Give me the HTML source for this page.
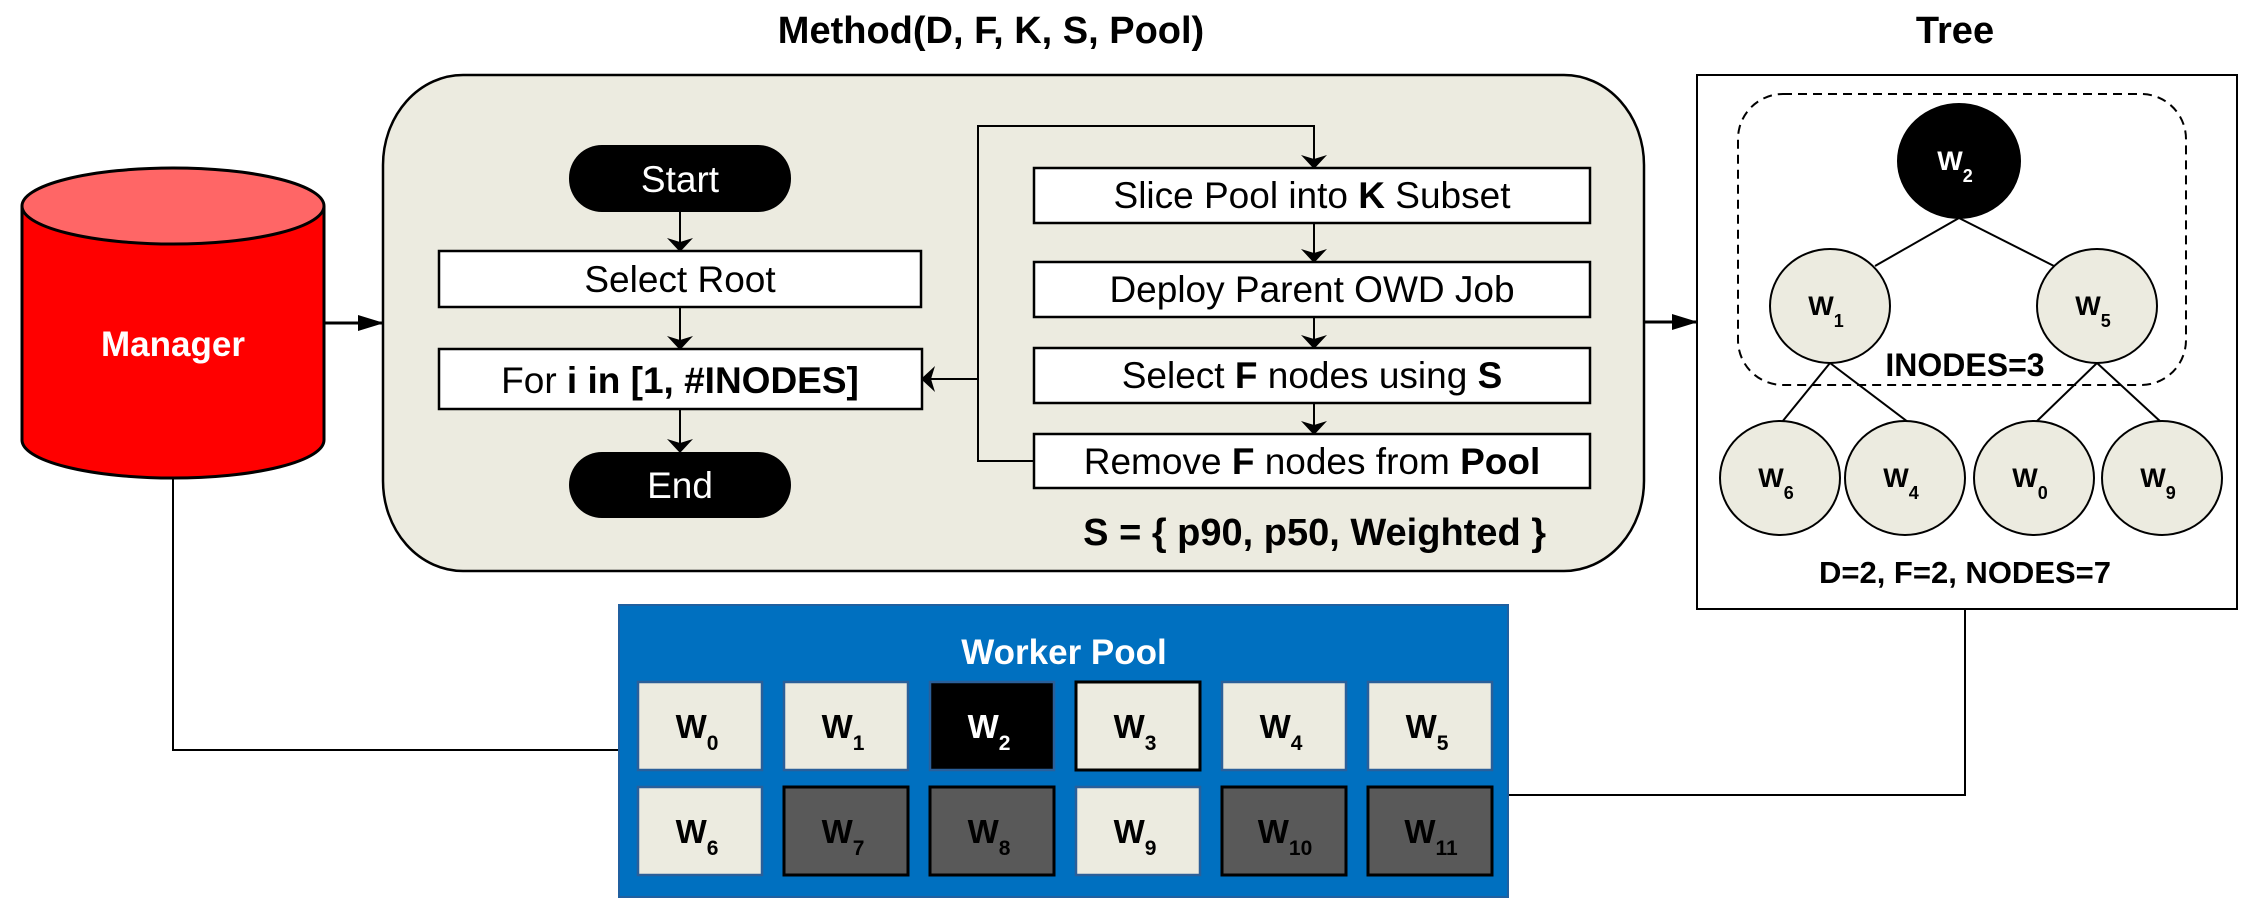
<!DOCTYPE html>
<html><head><meta charset="utf-8"><style>
html,body{margin:0;padding:0;background:#fff}
svg{display:block}
text{font-family:"Liberation Sans",sans-serif}
</style></head><body>
<svg width="2259" height="911" viewBox="0 0 2259 911" xmlns="http://www.w3.org/2000/svg">
<defs>
<marker id="c" markerWidth="14" markerHeight="26" refX="13" refY="13" orient="auto" markerUnits="userSpaceOnUse"><path d="M0,0 L14,13 L0,26 L4,13 z" fill="#000"/></marker>
<marker id="d" markerWidth="26" markerHeight="16" refX="25" refY="8" orient="auto" markerUnits="userSpaceOnUse"><path d="M0,0 L26,8 L0,16 z" fill="#000"/></marker>
</defs>

<text x="991" y="43" font-size="38" font-weight="bold" text-anchor="middle">Method(D, F, K, S, Pool)</text>
<text x="1955" y="43" font-size="38" font-weight="bold" text-anchor="middle">Tree</text>

<!-- Manager cylinder -->
<path d="M22,206 L22,440 A151,38 0 0 0 324,440 L324,206" fill="#ff0000" stroke="#000" stroke-width="3"/>
<ellipse cx="173" cy="206" rx="151" ry="38" fill="#ff6666" stroke="#000" stroke-width="3"/>
<text x="173" y="356" font-size="35" font-weight="bold" fill="#fff" text-anchor="middle">Manager</text>

<!-- connector lines -->
<polyline points="173,478 173,750 619,750" fill="none" stroke="#000" stroke-width="2"/>
<polyline points="1508,795 1965,795 1965,609" fill="none" stroke="#000" stroke-width="2"/>
<line x1="324" y1="323" x2="383" y2="323" stroke="#000" stroke-width="3" marker-end="url(#d)"/>
<line x1="1644" y1="322" x2="1697" y2="322" stroke="#000" stroke-width="3" marker-end="url(#d)"/>

<!-- Method box -->
<rect x="383" y="75" width="1261" height="496" rx="80" ry="90" fill="#ecebe0" stroke="#000" stroke-width="2.5"/>

<rect x="569" y="145" width="222" height="67" rx="33" fill="#000"/>
<text x="680" y="192" font-size="37" fill="#fff" text-anchor="middle">Start</text>
<rect x="439" y="251" width="482" height="56" fill="#fff" stroke="#000" stroke-width="2.5"/>
<text x="680" y="292" font-size="37" text-anchor="middle">Select Root</text>
<rect x="439" y="349" width="483" height="60" fill="#fff" stroke="#000" stroke-width="2.5"/>
<text x="680" y="393" font-size="37" text-anchor="middle">For <tspan font-weight="bold">i in [1, #INODES]</tspan></text>
<rect x="569" y="452" width="222" height="66" rx="33" fill="#000"/>
<text x="680" y="498" font-size="37" fill="#fff" text-anchor="middle">End</text>
<line x1="680" y1="212" x2="680" y2="251" stroke="#000" stroke-width="2" marker-end="url(#c)"/>
<line x1="680" y1="307" x2="680" y2="349" stroke="#000" stroke-width="2" marker-end="url(#c)"/>
<line x1="680" y1="409" x2="680" y2="452" stroke="#000" stroke-width="2" marker-end="url(#c)"/>

<rect x="1034" y="168" width="556" height="55" fill="#fff" stroke="#000" stroke-width="2.5"/>
<text x="1312" y="208" font-size="37" text-anchor="middle">Slice Pool into <tspan font-weight="bold">K</tspan> Subset</text>
<rect x="1034" y="262" width="556" height="55" fill="#fff" stroke="#000" stroke-width="2.5"/>
<text x="1312" y="302" font-size="37" text-anchor="middle">Deploy Parent OWD Job</text>
<rect x="1034" y="348" width="556" height="55" fill="#fff" stroke="#000" stroke-width="2.5"/>
<text x="1312" y="388" font-size="37" text-anchor="middle">Select <tspan font-weight="bold">F</tspan> nodes using <tspan font-weight="bold">S</tspan></text>
<rect x="1034" y="434" width="556" height="54" fill="#fff" stroke="#000" stroke-width="2.5"/>
<text x="1312" y="474" font-size="37" text-anchor="middle">Remove <tspan font-weight="bold">F</tspan> nodes from <tspan font-weight="bold">Pool</tspan></text>
<line x1="1314" y1="223" x2="1314" y2="262" stroke="#000" stroke-width="2" marker-end="url(#c)"/>
<line x1="1314" y1="317" x2="1314" y2="348" stroke="#000" stroke-width="2" marker-end="url(#c)"/>
<line x1="1314" y1="403" x2="1314" y2="434" stroke="#000" stroke-width="2" marker-end="url(#c)"/>
<polyline points="1034,461 978,461 978,126 1314,126 1314,168" fill="none" stroke="#000" stroke-width="2" marker-end="url(#c)"/>
<line x1="978" y1="379" x2="922" y2="379" stroke="#000" stroke-width="2" marker-end="url(#c)"/>
<text x="1546" y="545" font-size="38" font-weight="bold" text-anchor="end">S = { p90, p50, Weighted }</text>

<!-- Tree -->
<rect x="1697" y="75" width="540" height="534" fill="#fff" stroke="#000" stroke-width="2"/>
<rect x="1738" y="94" width="448" height="291" rx="45" fill="none" stroke="#000" stroke-width="2" stroke-dasharray="9,6"/>
<g stroke="#000" stroke-width="2">
<line x1="1959" y1="218" x2="1875" y2="266"/><line x1="1959" y1="218" x2="2054" y2="266"/>
<line x1="1830" y1="363" x2="1782" y2="422"/><line x1="1830" y1="363" x2="1908" y2="422"/>
<line x1="2097" y1="363" x2="2036" y2="422"/><line x1="2097" y1="363" x2="2161" y2="422"/>
</g>
<g stroke="#000" stroke-width="2" fill="#ecebe0">
<ellipse cx="1959" cy="161" rx="61" ry="57" fill="#000"/>
<ellipse cx="1830" cy="306" rx="60" ry="57"/><ellipse cx="2097" cy="306" rx="60" ry="57"/>
<ellipse cx="1780" cy="478" rx="60" ry="57"/><ellipse cx="1905" cy="478" rx="60" ry="57"/>
<ellipse cx="2034" cy="478" rx="60" ry="57"/><ellipse cx="2162" cy="478" rx="60" ry="57"/>
</g>
<g font-size="27" font-weight="bold" text-anchor="middle">
<text x="1955" y="170" fill="#fff">W<tspan font-size="18" dy="12">2</tspan></text>
<text x="1826" y="315">W<tspan font-size="18" dy="12">1</tspan></text>
<text x="2093" y="315">W<tspan font-size="18" dy="12">5</tspan></text>
<text x="1776" y="487">W<tspan font-size="18" dy="12">6</tspan></text>
<text x="1901" y="487">W<tspan font-size="18" dy="12">4</tspan></text>
<text x="2030" y="487">W<tspan font-size="18" dy="12">0</tspan></text>
<text x="2158" y="487">W<tspan font-size="18" dy="12">9</tspan></text>
</g>
<text x="1965" y="376" font-size="32" font-weight="bold" text-anchor="middle">INODES=3</text>
<text x="1965" y="583" font-size="31" font-weight="bold" text-anchor="middle">D=2, F=2, NODES=7</text>

<!-- Worker Pool -->
<rect x="619" y="605" width="889" height="292" fill="#0070c0" stroke="#2060a0" stroke-width="2"/>
<text x="1064" y="664" font-size="35" font-weight="bold" fill="#fff" text-anchor="middle">Worker Pool</text>
<g stroke-width="2.5">
<rect x="638" y="682" width="124" height="88" fill="#ecebe0" stroke="#2a5f9a"/>
<rect x="784" y="682" width="124" height="88" fill="#ecebe0" stroke="#2a5f9a"/>
<rect x="930" y="682" width="124" height="88" fill="#000" stroke="#2a5f9a"/>
<rect x="1076" y="682" width="124" height="88" fill="#ecebe0" stroke="#000" stroke-width="3"/>
<rect x="1222" y="682" width="124" height="88" fill="#ecebe0" stroke="#2a5f9a"/>
<rect x="1368" y="682" width="124" height="88" fill="#ecebe0" stroke="#2a5f9a"/>
<rect x="638" y="787" width="124" height="88" fill="#ecebe0" stroke="#2a5f9a"/>
<rect x="784" y="787" width="124" height="88" fill="#595959" stroke="#000" stroke-width="3"/>
<rect x="930" y="787" width="124" height="88" fill="#595959" stroke="#000" stroke-width="3"/>
<rect x="1076" y="787" width="124" height="88" fill="#ecebe0" stroke="#2a5f9a"/>
<rect x="1222" y="787" width="124" height="88" fill="#595959" stroke="#000" stroke-width="3"/>
<rect x="1368" y="787" width="124" height="88" fill="#595959" stroke="#000" stroke-width="3"/>
</g>
<g font-size="33" font-weight="bold" text-anchor="middle">
<text x="697" y="738">W<tspan font-size="21" dy="12">0</tspan></text>
<text x="843" y="738">W<tspan font-size="21" dy="12">1</tspan></text>
<text x="989" y="738" fill="#fff">W<tspan font-size="21" dy="12">2</tspan></text>
<text x="1135" y="738">W<tspan font-size="21" dy="12">3</tspan></text>
<text x="1281" y="738">W<tspan font-size="21" dy="12">4</tspan></text>
<text x="1427" y="738">W<tspan font-size="21" dy="12">5</tspan></text>
<text x="697" y="843">W<tspan font-size="21" dy="12">6</tspan></text>
<text x="843" y="843">W<tspan font-size="21" dy="12">7</tspan></text>
<text x="989" y="843">W<tspan font-size="21" dy="12">8</tspan></text>
<text x="1135" y="843">W<tspan font-size="21" dy="12">9</tspan></text>
<text x="1285" y="843">W<tspan font-size="21" dy="12">10</tspan></text>
<text x="1431" y="843">W<tspan font-size="21" dy="12">11</tspan></text>
</g>
</svg>
</body></html>
